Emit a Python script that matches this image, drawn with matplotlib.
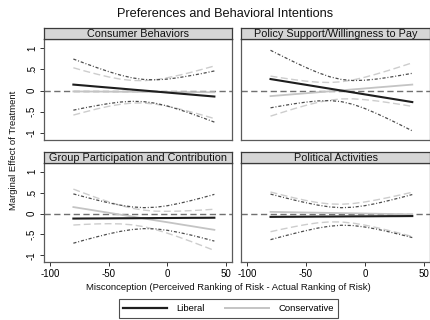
import matplotlib
matplotlib.use("Agg")
import matplotlib.pyplot as plt
import numpy as np

plt.rcParams['font.family'] = ['Liberation Sans', 'DejaVu Sans']

# Misconception values at which the marginal effects were evaluated
misconception = [-80, -70, -60, -50, -40, -30, -20, -10, 0, 10, 20, 30, 40]

panel_titles = ["Consumer Behaviors", "Policy Support/Willingness to Pay",
                "Group Participation and Contribution", "Political Activities"]

# Consumer Behaviors
lib_est_cb = [0.14, 0.117, 0.093, 0.07, 0.047, 0.023, 0.0, -0.023, -0.047, -0.07, -0.093, -0.117, -0.14]
lib_moe_cb = [0.60, 0.52, 0.445, 0.375, 0.316, 0.275, 0.26, 0.275, 0.316, 0.375, 0.445, 0.52, 0.60]
con_est_cb = [-0.02, -0.022, -0.023, -0.025, -0.027, -0.028, -0.03, -0.032, -0.033, -0.035, -0.037, -0.038, -0.04]
con_moe_cb = [0.555, 0.479, 0.408, 0.345, 0.295, 0.265, 0.262, 0.287, 0.334, 0.395, 0.464, 0.539, 0.617]

# Policy Support/Willingness to Pay
lib_est_ps = [0.27, 0.225, 0.18, 0.135, 0.09, 0.045, 0.0, -0.045, -0.09, -0.135, -0.18, -0.225, -0.27]
lib_moe_ps = [0.675, 0.581, 0.49, 0.406, 0.333, 0.28, 0.26, 0.28, 0.333, 0.406, 0.49, 0.581, 0.675]
con_est_ps = [-0.13, -0.108, -0.085, -0.063, -0.04, -0.018, 0.005, 0.028, 0.05, 0.073, 0.095, 0.118, 0.14]
con_moe_ps = [0.47, 0.404, 0.341, 0.284, 0.237, 0.207, 0.201, 0.222, 0.264, 0.317, 0.378, 0.443, 0.511]

# Group Participation and Contribution
lib_est_gp = [-0.12, -0.118, -0.117, -0.115, -0.113, -0.112, -0.11, -0.108, -0.107, -0.105, -0.103, -0.102, -0.10]
lib_moe_gp = [0.59, 0.513, 0.44, 0.372, 0.314, 0.271, 0.251, 0.259, 0.294, 0.348, 0.412, 0.483, 0.559]
con_est_gp = [0.155, 0.11, 0.064, 0.019, -0.027, -0.072, -0.117, -0.164, -0.208, -0.254, -0.299, -0.345, -0.39]
con_moe_gp = [0.43, 0.369, 0.312, 0.262, 0.221, 0.198, 0.198, 0.221, 0.262, 0.312, 0.369, 0.43, 0.493]

# Political Activities
lib_est_pa = [-0.08, -0.078, -0.077, -0.075, -0.073, -0.072, -0.07, -0.068, -0.067, -0.065, -0.063, -0.062, -0.06]
lib_moe_pa = [0.545, 0.471, 0.40, 0.334, 0.275, 0.231, 0.21, 0.22, 0.256, 0.309, 0.373, 0.442, 0.515]
con_est_pa = [0.04, 0.035, 0.03, 0.025, 0.02, 0.015, 0.01, 0.005, 0.0, -0.005, -0.01, -0.015, -0.02]
con_moe_pa = [0.475, 0.408, 0.345, 0.288, 0.242, 0.215, 0.212, 0.235, 0.278, 0.333, 0.395, 0.461, 0.53]

y_ticks = [1, 0.5, 0, -0.5, -1]
y_tick_labels = ["1", ".5", "0", "-.5", "-1"]
x_ticks = [-100, -50, 0, 50]
x_tick_labels = ["-100", "-50", "0", "50"]

series = [
    (lib_est_cb, lib_moe_cb, con_est_cb, con_moe_cb),
    (lib_est_ps, lib_moe_ps, con_est_ps, con_moe_ps),
    (lib_est_gp, lib_moe_gp, con_est_gp, con_moe_gp),
    (lib_est_pa, lib_moe_pa, con_est_pa, con_moe_pa),
]

W, H = 431, 320
fig = plt.figure(figsize=(W / 100, H / 100), dpi=100)
fig.patch.set_facecolor("white")

def fx(px):
    return px / W

def fy(py):
    return 1 - py / H

# panel boxes in pixels
cols = [(44, 232), (241, 430)]
rows = [(28, 39, 140), (152, 163, 262)]

LIB = "#1e1e1e"
LIB_CI = "#4d4d4d"
CON = "#c4c4c4"
CON_CI = "#cdcdcd"
FRAME = "#5a5a5a"

x = np.array(misconception)
for i, title in enumerate(panel_titles):
    r, c = divmod(i, 2)
    l, rt = cols[c]
    st, pt, pb = rows[r]
    ax = fig.add_axes([fx(l), fy(pb), fx(rt - l), (pb - pt) / H])
    sax = fig.add_axes([fx(l), fy(pt), fx(rt - l), (pt - st) / H])

    lib_est, lib_moe, con_est, con_moe = [np.array(s) for s in series[i]]

    ax.axhline(0, color="#707070", lw=1.0, dashes=(4.5, 2.5), zorder=1)
    ax.plot(x, con_est + con_moe, color=CON_CI, lw=1.0, dashes=(5, 2.5), zorder=2)
    ax.plot(x, con_est - con_moe, color=CON_CI, lw=1.0, dashes=(5, 2.5), zorder=2)
    ax.plot(x, con_est, color=CON, lw=1.3, zorder=3)
    ax.plot(x, lib_est + lib_moe, color=LIB_CI, lw=0.9, dashes=(2.5, 1.5, 0.8, 1.5), zorder=4)
    ax.plot(x, lib_est - lib_moe, color=LIB_CI, lw=0.9, dashes=(2.5, 1.5, 0.8, 1.5), zorder=4)
    ax.plot(x, lib_est, color=LIB, lw=1.5, zorder=5)

    ax.set_xlim(-105, 55)
    ax.set_ylim(-1.16, 1.21)
    for sp in ax.spines.values():
        sp.set_color(FRAME)
        sp.set_linewidth(0.9)

    ax.set_yticks(y_ticks)
    ax.set_xticks(x_ticks)
    ax.tick_params(axis="both", direction="out", length=3, width=0.7, color="#333333",
                   labelsize=7, pad=2)
    if c == 0:
        ax.set_yticklabels(y_tick_labels, rotation=90, va="center")
    else:
        ax.tick_params(axis="y", left=False, labelleft=False)
    if r == 1:
        ax.set_xticklabels(x_tick_labels)
    else:
        ax.tick_params(axis="x", bottom=False, labelbottom=False)

    sax.set_facecolor("#d6d6d6")
    sax.set_xticks([])
    sax.set_yticks([])
    for sp in sax.spines.values():
        sp.set_color("#3a3a3a")
        sp.set_linewidth(0.9)
    sax.text(0.5, 0.45, title, ha="center", va="center", fontsize=7.85,
             transform=sax.transAxes, color="#111111")

fig.text(fx(225), fy(14), "Preferences and Behavioral Intentions",
         ha="center", va="center", fontsize=9.2, color="#111111")
fig.text(fx(228), fy(288), "Misconception (Perceived Ranking of Risk - Actual Ranking of Risk)",
         ha="center", va="center", fontsize=6.8, color="#111111")
fig.text(fx(14), fy(150), "Marginal Effect of Treatment", rotation=90,
         ha="center", va="center", fontsize=6.8, color="#111111")

handles = [plt.Line2D([], [], color=LIB, lw=1.6),
           plt.Line2D([], [], color=CON, lw=1.4)]
leg = fig.legend(handles, ["Liberal", "Conservative"], ncol=2,
                 loc="center", bbox_to_anchor=(fx(228.5), fy(308.5)),
                 fontsize=6.8, frameon=True, fancybox=False, handlelength=4.6,
                 columnspacing=2.2, handletextpad=1.0, borderpad=0.5)
leg.get_frame().set_edgecolor("#222222")
leg.get_frame().set_linewidth(0.8)

fig.savefig("out.png", dpi=100, facecolor="white")
